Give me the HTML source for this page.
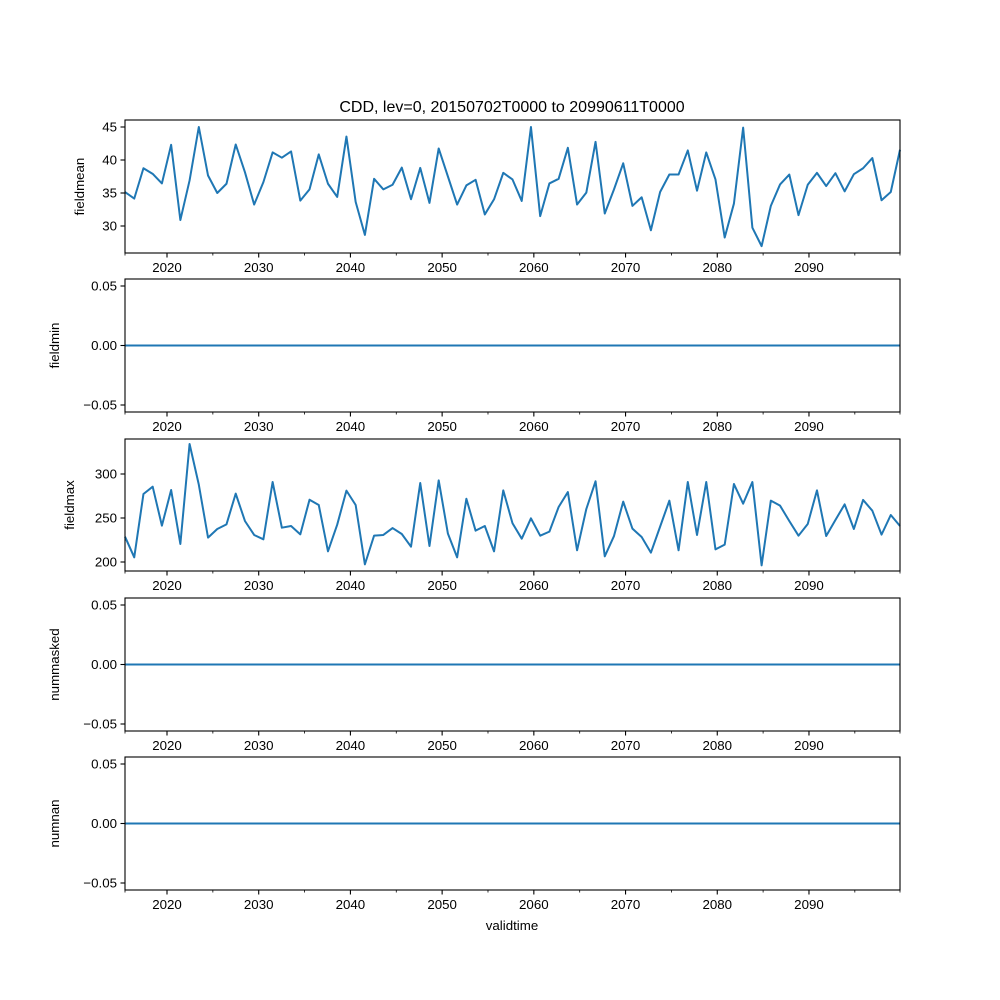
<!DOCTYPE html>
<html><head><meta charset="utf-8"><style>
body{margin:0;background:#fff}
svg{display:block;font-family:"Liberation Sans","DejaVu Sans",sans-serif}
</style></head><body>
<svg id="fig" width="1000" height="1000" viewBox="0 0 1000 1000">
<rect width="1000" height="1000" fill="#fff"/>
<text x="512" y="112" font-size="16" text-anchor="middle">CDD, lev=0, 20150702T0000 to 20990611T0000</text>
<text x="512" y="930" font-size="13.3" text-anchor="middle">validtime</text>
</svg>
<script>
const fieldmean = [35.15,34.15,38.75,37.9,36.45,42.3,30.9,36.9,45,37.65,35,36.4,42.35,38.15,33.25,36.65,41.15,40.35,41.3,33.85,35.55,40.85,36.4,34.4,43.55,33.65,28.65,37.15,35.55,36.25,38.85,34.05,38.8,33.5,41.75,37.5,33.25,36.15,37,31.75,34.05,38.05,37.05,33.8,
45,31.5,36.45,37.15,41.85,33.25,35.05,42.75,31.9,35.55,39.5,33.05,34.35,29.35,35.15,37.8,37.8,41.45,35.35,41.15,37.05,28.25,33.4,44.9,29.75,26.95,33.05,36.3,37.8,31.65,36.25,38.05,36.05,38,35.25,37.85,38.75,40.3,33.9,35.15,41.55];
const fieldmax = [228.8,205.3,277.3,285.6,241.3,281.8,220.5,334.1,287.9,227.7,237.5,242.8,277.7,246.6,230.7,225.8,290.9,239,240.9,231.4,270.8,264.8,212.1,242.4,281.1,264.8,197.3,230,230.7,238.6,231.8,217.4,289.8,218.2,292.8,232.2,205.3,271.9,235.6,240.9,212.1,281.4,244,226.5,
249.6,229.9,234.5,262.5,279.5,213.3,260.2,291.7,206.4,229.5,268.6,237.9,228.4,210.6,240.2,269.7,213.3,290.9,230.7,290.9,214.4,219.7,288.6,266.3,290.9,196.2,269.7,264,246.6,229.9,243.2,281.4,229.5,247.7,265.5,237.5,270.5,258.3,231.1,253.4,240.9];
const zeros = fieldmean.map(()=>0);
const xTickLabels = [2020,2030,2040,2050,2060,2070,2080,2090];
const xMinorTicks = [2025,2035,2045,2055,2065,2075,2085,2095];
const meanTicks = [30,35,40,45];
const maxTicks = [200,250,300];
const zeroTicks = [-0.05,0,0.05];

const NS="http://www.w3.org/2000/svg";
const svg=document.getElementById('fig');
const L=125,R=900;
const n=fieldmean.length;
function xi(i){return L+i*(R-L)/(n-1);}
function xYear(y){return 167+(y-2020)*9.171;}
function mk(tag,attrs,parent){const e=document.createElementNS(NS,tag);for(const k in attrs)e.setAttribute(k,attrs[k]);(parent||svg).appendChild(e);return e;}

const panels=[
 {name:'fieldmean',lx:84,top:120,bot:253,data:fieldmean,ticks:meanTicks,fmt:v=>String(v),y:v=>127+(45-v)*6.6},
 {name:'fieldmin',lx:59,top:279,bot:412,data:zeros,ticks:zeroTicks,fmt:v=>v.toFixed(2).replace('-','−'),y:v=>345.5-v*1190},
 {name:'fieldmax',lx:74,top:439,bot:571,data:fieldmax,ticks:maxTicks,fmt:v=>String(v),y:v=>474+(300-v)*0.88},
 {name:'nummasked',lx:59,top:598,bot:731,data:zeros,ticks:zeroTicks,fmt:v=>v.toFixed(2).replace('-','−'),y:v=>664.5-v*1190},
 {name:'numnan',lx:59,top:757,bot:890,data:zeros,ticks:zeroTicks,fmt:v=>v.toFixed(2).replace('-','−'),y:v=>823.5-v*1190}
];
panels.forEach(p=>{
  const g=mk('g',{});
  
  
  let d='';
  p.data.forEach((v,i)=>{d+=(i?'L':'M')+xi(i).toFixed(2)+','+p.y(v).toFixed(2);});
  const path=mk('path',{d:d,fill:'none',stroke:'#1f77b4','stroke-width':2,'stroke-linejoin':'round'},g);
  
  
  const fr=mk('rect',{x:L,y:p.top,width:R-L,height:p.bot-p.top,fill:'none',stroke:'#000','stroke-width':1.1},g);
  
  
  p.ticks.forEach(t=>{
    const yy=p.y(t);
    mk('line',{x1:L-4.5,x2:L,y1:yy,y2:yy,stroke:'#000','stroke-width':1.1},g);
    const tx=mk('text',{x:L-8,y:yy+4.5,'font-size':13.3,'text-anchor':'end'},g);
    tx.textContent=p.fmt(t);
    
    
  });
  xTickLabels.forEach(t=>{
    const xx=xYear(t);
    mk('line',{x1:xx,x2:xx,y1:p.bot,y2:p.bot+4.5,stroke:'#000','stroke-width':1.1},g);
    const tx=mk('text',{x:xx,y:p.bot+19,'font-size':13.3,'text-anchor':'middle'},g);
    tx.textContent=t;
    
    
  });
  xMinorTicks.forEach(t=>{
    const xx=xYear(t);
    mk('line',{x1:xx,x2:xx,y1:p.bot,y2:p.bot+2.5,stroke:'#000','stroke-width':0.8},g);
  });
  [L,R].forEach(xx=>mk('line',{x1:xx,x2:xx,y1:p.bot,y2:p.bot+2.5,stroke:'#000','stroke-width':0.8},g));
  const yl=mk('text',{x:0,y:0,'font-size':13.3,'text-anchor':'middle',transform:`translate(${p.lx},${(p.top+p.bot)/2}) rotate(-90)`},g);
  yl.textContent=p.name;
  
  
});
</script>
</body></html>
